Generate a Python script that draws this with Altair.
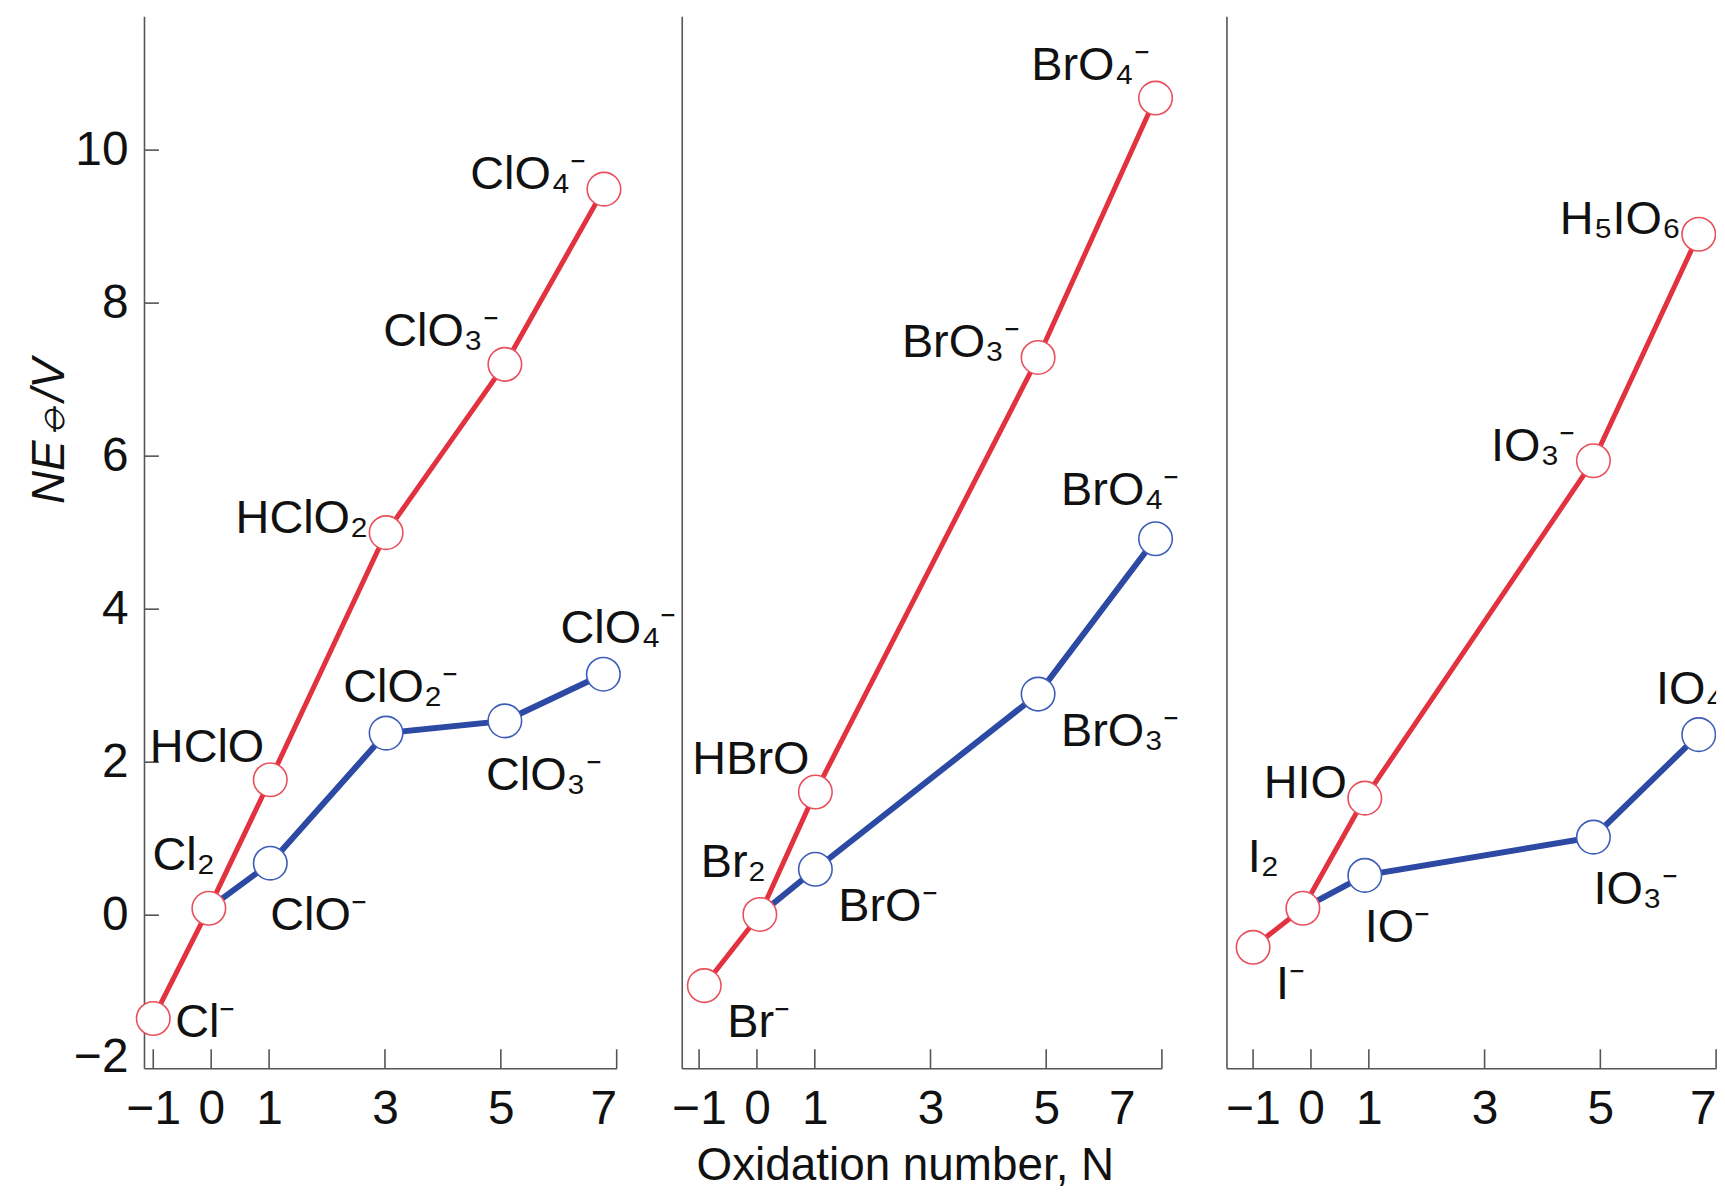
import altair as alt
import pandas as pd

# ---------------- data ----------------
x_tick_values = [-1, 0, 1, 3, 5, 7]
y_tick_values = [-2, 0, 2, 4, 6, 8, 10]
y_inner_ticks = [0, 2, 4, 6, 8, 10]

# Chlorine
cl_acid_N = [-1.0, -0.04, 1.02, 3.02, 5.07, 6.78]
cl_acid_E = [-1.35, 0.09, 1.77, 5.00, 7.20, 9.49]
cl_acid_species = ["Cl⁻", "Cl₂", "HClO", "HClO₂", "ClO₃⁻", "ClO₄⁻"]
cl_acid_place = ["E", "NWs", "WN", "W", "WN", "W"]

cl_base_N = [-0.04, 1.02, 3.02, 5.07, 6.77]
cl_base_E = [0.09, 0.68, 2.38, 2.54, 3.15]
cl_base_species = ["", "ClO⁻", "ClO₂⁻", "ClO₃⁻", "ClO₄⁻"]
cl_base_place = ["", "S", "N", "SW", "N"]

# Bromine
br_acid_N = [-0.91, 0.05, 1.01, 4.86, 6.89]
br_acid_E = [-0.92, 0.01, 1.61, 7.29, 10.68]
br_acid_species = ["Br⁻", "Br₂", "HBrO", "BrO₃⁻", "BrO₄⁻"]
br_acid_place = ["SE", "NWs", "WN", "W", "WN"]

br_base_N = [0.05, 1.01, 4.86, 6.89]
br_base_E = [0.01, 0.60, 2.89, 4.92]
br_base_species = ["", "BrO⁻", "BrO₃⁻", "BrO₄⁻"]
br_base_place = ["", "SE", "SE", "NE"]

# Iodine
i_acid_N = [-1.0, -0.14, 0.93, 4.88, 6.70]
i_acid_E = [-0.42, 0.09, 1.53, 5.94, 8.90]
i_acid_species = ["I⁻", "I₂", "HIO", "IO₃⁻", "H₅IO₆"]
i_acid_place = ["SE", "NWf", "W", "W", "W"]

i_base_N = [-0.14, 0.93, 4.88, 6.70]
i_base_E = [0.09, 0.52, 1.02, 2.36]
i_base_species = ["", "IO⁻", "IO₃⁻", "IO₄⁻"]
i_base_place = ["", "S", "S", "N"]

# ---------------- styles ----------------
FONT = "Liberation Sans"
TEXT = "#111111"
AXIS = "#555555"
RED_LINE = "#e2323f"
RED_RING = "#e8505c"
BLUE_LINE = "#2c49a3"
BLUE_RING = "#3d5db8"
H = 1056
Y_DOMAIN = [-2, 11.75]
LABEL_SIZE = 47
TICK_SIZE = 48

# label placement classes: align, dx, dy (alphabetic baseline)
PLACES = {
    "E": ("left", 22, 19),
    "SE": ("left", 23, 52),
    "S": ("left", 0, 67),
    "SW": ("left", -19, 69),
    "N": ("left", -43, -31),
    "NE": ("right", 24, -34),
    "NWs": ("right", 6, -38),
    "NWf": ("right", -24, -36),
    "W": ("right", -18, 0),
    "WN": ("right", -6, -18),
}


def frame(N, E, species, place):
    return pd.DataFrame({"N": N, "E": E, "species": species, "place": place,
                         "order": list(range(len(N)))})


def panel(acid, base, domain, width, first=False, with_title=False, last=False,
          seven_offset=0):
    x_axis = dict(values=x_tick_values, format="d", ticks=False, grid=False,
                  labelPadding=17, title=None)
    if seven_offset:
        x_axis["labelOffset"] = {"condition": {"test": "datum.value == 7",
                                               "value": seven_offset}, "value": 0}
    if with_title:
        x_axis.update(title="Oxidation number, N", titleX=224, titleY=112,
                      titleAlign="center", titleBaseline="alphabetic")
    if last:
        x_axis["labelFlush"] = True
    x_enc = alt.X("N:Q", scale=alt.Scale(domain=domain, nice=False, zero=False),
                  axis=alt.Axis(**x_axis))

    if first:
        y_axis = alt.Axis(values=y_tick_values, format="d", ticks=False, grid=False,
                          labelPadding=16,
                          labelOffset={"condition": {"test": "datum.value == -2",
                                                     "value": -11}, "value": 0},
                          title="NE⦵/V", titleX=-81, titleY=416,
                          titleBaseline="alphabetic", titleFontStyle="italic")
    else:
        y_axis = alt.Axis(labels=False, ticks=False, grid=False, title=None)
    y_enc = alt.Y("E:Q", scale=alt.Scale(domain=Y_DOMAIN, nice=False, zero=False),
                  axis=y_axis)

    clip = bool(last)
    layers = []
    layers.append(
        alt.Chart(pd.DataFrame({"N": x_tick_values}))
        .mark_rule(color=AXIS, strokeWidth=1.6)
        .encode(x=x_enc, y=alt.value(H), y2=alt.value(H - 19))
    )
    if first:
        layers.append(
            alt.Chart(pd.DataFrame({"E": y_inner_ticks}))
            .mark_rule(color=AXIS, strokeWidth=1.6)
            .encode(y=y_enc, x=alt.value(0), x2=alt.value(15))
        )
    layers.append(
        alt.Chart(base).mark_line(color=BLUE_LINE, strokeWidth=6, clip=clip)
        .encode(x=x_enc, y=y_enc, order="order:Q")
    )
    layers.append(
        alt.Chart(acid).mark_line(color=RED_LINE, strokeWidth=5, clip=clip)
        .encode(x=x_enc, y=y_enc, order="order:Q")
    )
    layers.append(
        alt.Chart(base).transform_filter("datum.species != ''")
        .mark_circle(size=1130, fill="white", stroke=BLUE_RING, strokeWidth=1.6,
                     opacity=1, fillOpacity=1, clip=clip)
        .encode(x=x_enc, y=y_enc)
    )
    layers.append(
        alt.Chart(acid)
        .mark_circle(size=1130, fill="white", stroke=RED_RING, strokeWidth=1.6,
                     opacity=1, fillOpacity=1, clip=clip)
        .encode(x=x_enc, y=y_enc)
    )
    labels = pd.concat([acid, base], ignore_index=True)
    labels = labels[labels["species"] != ""]
    for key in sorted(set(labels["place"])):
        align, dx, dy = PLACES[key]
        layers.append(
            alt.Chart(labels).transform_filter(f"datum.place == '{key}'")
            .mark_text(align=align, dx=dx, dy=dy, baseline="alphabetic",
                       font=FONT, fontSize=LABEL_SIZE, color=TEXT, clip=clip)
            .encode(x=x_enc, y=y_enc, text="species:N")
        )
    return alt.layer(*layers).properties(width=width, height=H)


p1 = panel(frame(cl_acid_N, cl_acid_E, cl_acid_species, cl_acid_place),
           frame(cl_base_N, cl_base_E, cl_base_species, cl_base_place),
           [-1.16, 7], 474.5, first=True)
p2 = panel(frame(br_acid_N, br_acid_E, br_acid_species, br_acid_place),
           frame(br_base_N, br_base_E, br_base_species, br_base_place),
           [-1.30, 7], 482, with_title=True, seven_offset=-27)
p3 = panel(frame(i_acid_N, i_acid_E, i_acid_species, i_acid_place),
           frame(i_base_N, i_base_E, i_base_species, i_base_place),
           [-1.46, 7], 491.5, last=True)

chart = (
    alt.hconcat(p1, p2, p3, spacing=64.8, bounds="flush")
    .properties(padding={"left": 18.5, "top": 6, "right": 0, "bottom": 0},
                background="white")
    .configure_view(stroke=None)
    .configure_axis(
        domainColor=AXIS, domainWidth=1.6,
        labelFont=FONT, labelFontSize=TICK_SIZE, labelColor=TEXT,
        titleFont=FONT, titleFontSize=46, titleColor=TEXT, titleFontWeight="normal",
    )
)

chart.save("out.html", embed_options={"renderer": "svg", "actions": False})
